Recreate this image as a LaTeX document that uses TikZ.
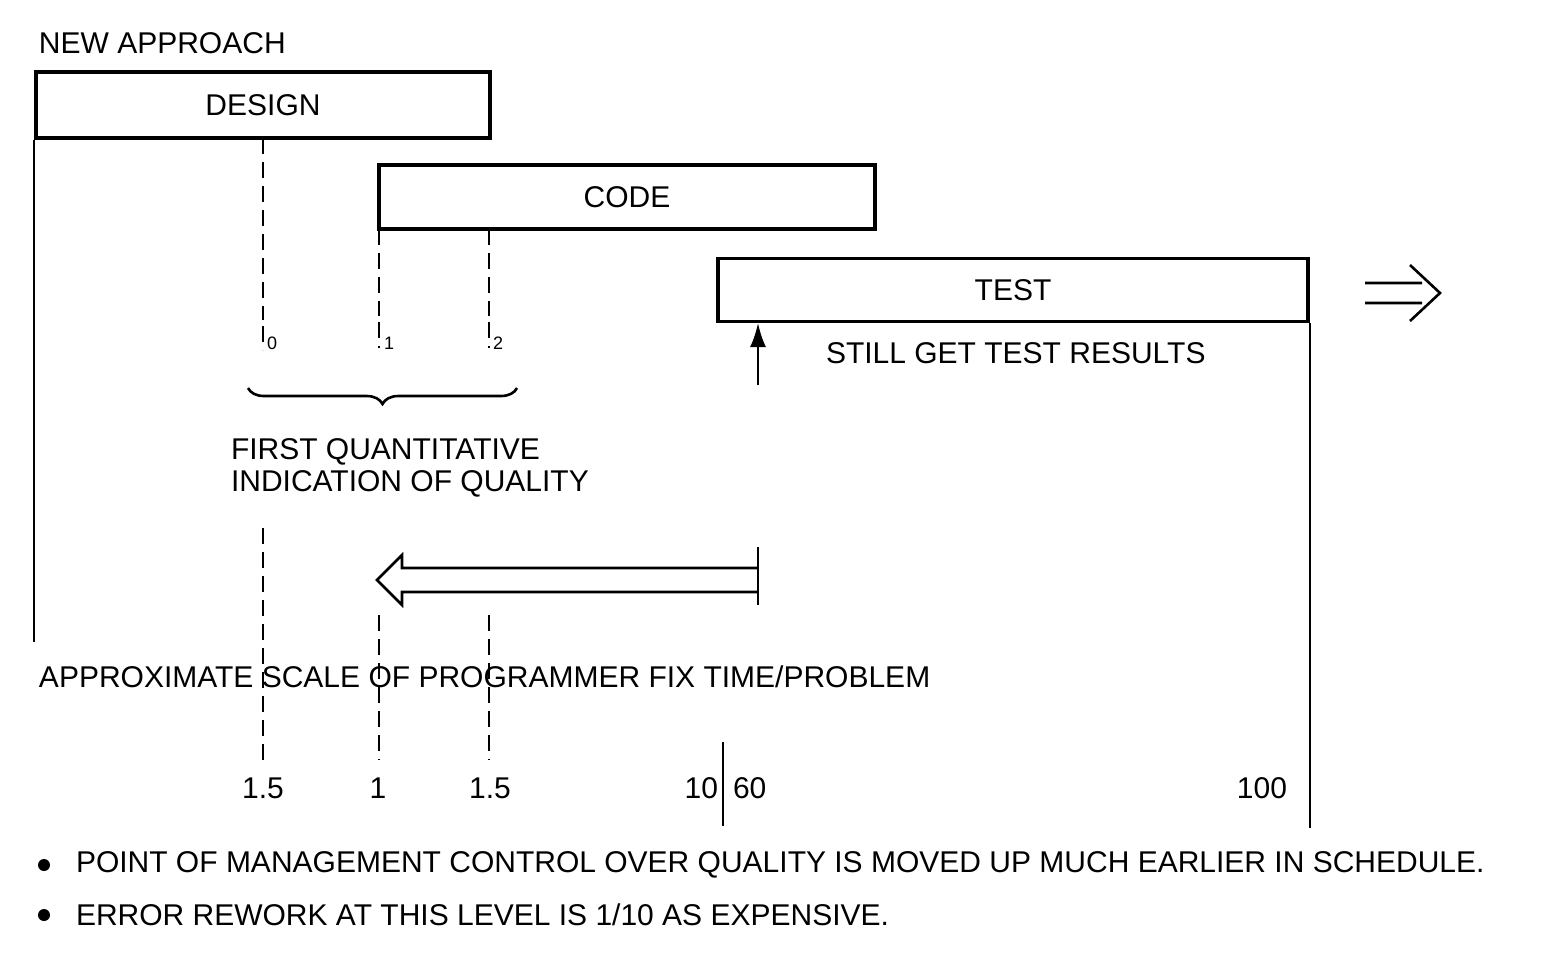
\documentclass[tikz,border=0pt]{standalone}
\usepackage{fontspec}
\setmainfont{Liberation Sans}
\usetikzlibrary{calc,decorations.pathreplacing,arrows.meta}
\tikzset{
  phase/.style={draw,line width=1.6pt,inner sep=0pt},
  lbl/.style={inner sep=0pt,font=\fontsize{15}{17}\selectfont},
  guide/.style={line width=1pt,dash pattern=on 8pt off 4pt},
}
\begin{document}
\begin{tikzpicture}[x=0.5pt,y=-0.5pt,line width=1pt]
  \useasboundingbox (0,0) rectangle (1542,966);
  \node[lbl,anchor=west] (title) at (38,43) {NEW APPROACH};
  % the three phase boxes
  \node[phase,minimum width=227pt,minimum height=33pt] (design) at (263,105) {};
  \node[lbl] at (design) {DESIGN};
  \node[phase,minimum width=248pt,minimum height=32pt] (code) at (627,197) {};
  \node[lbl] at (code) {CODE};
  \node[phase,minimum width=295pt,minimum height=31.5pt] (test) at (1013,290) {};
  \node[lbl] at (test) {TEST};
  \draw (design.south west) -- ++(0,502);
  \draw (test.south east) -- ++(0,505);
  % right hollow arrow
  \draw[line width=1.3pt] (1365,283) -- (1422,283) (1365,303) -- (1422,303)
    (1410,265) -- (1440,293) -- (1410,321);
  % inspection points
  \node[lbl,anchor=north west] (i0) at (266,336) {\raisebox{-0.6ex}{\small 0}};
  \node[lbl,anchor=north west] (i1) at (383,336) {\raisebox{-0.6ex}{\small 1}};
  \node[lbl,anchor=north west] (i2) at (492,336) {\raisebox{-0.6ex}{\small 2}};
  \draw[guide] (263,138) -- (263,320) (263,326) -- (263,350);
  \draw[guide] (379,229) -- (379,316) (379,322) -- (379,348);
  \draw[guide] (489,229) -- (489,316) (489,322) -- (489,348);
  \draw[decorate,decoration={brace,amplitude=8pt,mirror},line width=1.3pt]
    (248,388) -- (517,388);
  \node[lbl,anchor=north west,align=left] (first) at (230,438)
    {FIRST QUANTITATIVE\\[-1pt]INDICATION OF QUALITY};
  % test results
  \coordinate (still) at (758,385);
  \draw[-{Latex[length=12pt,width=8pt]}] (still) -- (test.south -| still);
  \node[lbl,anchor=west] (results) at (825,353) {STILL GET TEST RESULTS};
  % hollow arrow back
  \draw[line width=1.3pt] (758,568) -- (402,568) -- (402,555) -- (377,580)
    -- (402,605) -- (402,592) -- (758,592);
  \draw (758,547) -- (758,605);
  \draw[guide] (263,528) -- (263,765);
  \draw[guide] (379,615) -- (379,760);
  \draw[guide] (489,615) -- (489,760);
  \node[lbl,anchor=west] (scale) at (38,677)
    {APPROXIMATE SCALE OF PROGRAMMER FIX TIME/PROBLEM};
  % scale values
  \node[lbl] (s0) at (263,788) {1.5};
  \node[lbl] (s1) at (378,788) {1};
  \node[lbl] (s2) at (490,788) {1.5};
  \node[lbl,anchor=east] (s3) at (719,788) {10};
  \node[lbl,anchor=west] (s4) at (732,788) {60};
  \node[lbl] (s5) at (1262,788) {100};
  \draw (723,742) -- (723,826);
  % notes
  \fill (44,865) circle (6);
  \fill (44,915) circle (6);
  \node[lbl,anchor=west] (n1) at (75,865)
    {POINT OF MANAGEMENT CONTROL OVER QUALITY IS MOVED UP MUCH EARLIER IN SCHEDULE.};
  \node[lbl,anchor=west] (n2) at (75,915)
    {ERROR REWORK AT THIS LEVEL IS 1/10 AS EXPENSIVE.};
\end{tikzpicture}
\end{document}
